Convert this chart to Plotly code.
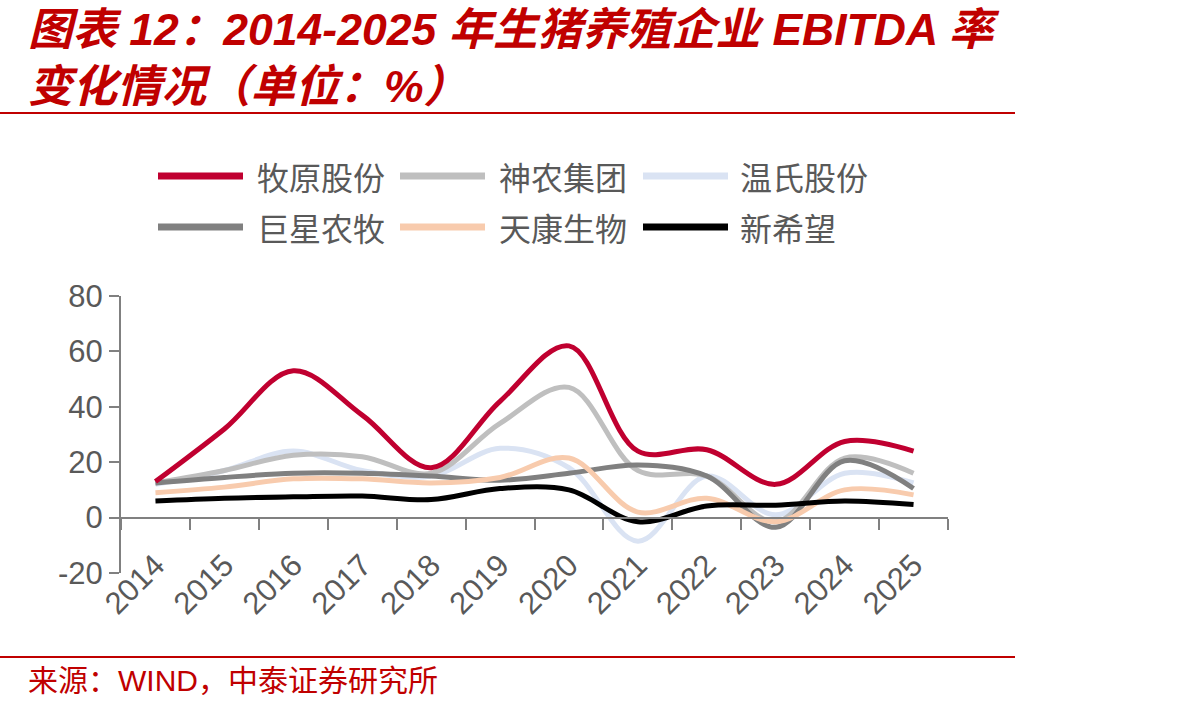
import plotly.graph_objects as go

W, H = 1192, 710
L, R, T, B = 121, 948, 296, 573  # plot area in pixels

years = ['2014', '2015', '2016', '2017', '2018', '2019', '2020', '2021', '2022', '2023', '2024', '2025']
muyuan = [13, 32, 53, 37, 18, 42, 62, 24, 24.5, 12, 27.5, 24]
shennong = [12.5, 17, 22.5, 22, 16, 34, 47, 17, 15, -1.5, 21.5, 16]
wens = [12, 17, 24, 17, 15, 25, 18, -8.5, 15, 1, 16, 12.5]
juxing = [12.5, 14.5, 16, 16, 15, 13.5, 16, 19, 15, -3.5, 20.5, 10.5]
tiankang = [9, 11, 14, 14, 12.5, 14.5, 21.5, 2, 7, -1.5, 10, 8.2]
xinxiwang = [6, 7, 7.5, 7.8, 6.5, 10.5, 10, -1.5, 4.2, 4.5, 6, 4.7]

names = ['牧原股份', '神农集团', '温氏股份', '巨星农牧', '天康生物', '新希望']
series = [muyuan, shennong, wens, juxing, tiankang, xinxiwang]
colors = ['#C00030', '#BFBFBF', '#DAE3F3', '#808080', '#F8CBAD', '#000000']
draw_order = [2, 1, 3, 4, 5, 0]

y_ticks = [-20, 0, 20, 40, 60, 80]
y_ticktext = ['-20', '0', '20', '40', '60', '80']

fig = go.Figure()
for i in draw_order:
    fig.add_trace(go.Scatter(
        x=years, y=series[i], name=names[i], mode='lines',
        line=dict(color=colors[i], width=5, shape='spline', smoothing=1.0),
        showlegend=False, hoverinfo='skip'))


def px(x):
    return (x - L) / (R - L)


def py(y):
    return (B - y) / (B - T)


shapes = []
annotations = []
red = '#C00000'
# header / footer rules
for yy in (113, 657):
    shapes.append(dict(type='line', xref='paper', yref='paper', x0=px(0), x1=px(1015),
                       y0=py(yy), y1=py(yy), line=dict(color=red, width=2)))

annotations.append(dict(xref='paper', yref='paper', x=px(26), y=py(29), xanchor='left', yanchor='middle',
                        text='<b><i>图表 12：2014-2025 年生猪养殖企业 EBITDA 率</i></b>', showarrow=False,
                        font=dict(family='Liberation Sans, Noto Sans CJK SC', size=44.5, color=red)))
annotations.append(dict(xref='paper', yref='paper', x=px(26), y=py(86), xanchor='left', yanchor='middle',
                        text='<b><i>变化情况（单位：%）</i></b>', showarrow=False,
                        font=dict(family='Liberation Sans, Noto Sans CJK SC', size=44.5, color=red)))
annotations.append(dict(xref='paper', yref='paper', x=px(26), y=py(680), xanchor='left', yanchor='middle',
                        text='来源：WIND，中泰证券研究所', showarrow=False,
                        font=dict(family='Liberation Sans, Noto Sans CJK SC', size=30, color=red)))

# custom legend
leg_cols = [(158, 243, 255), (400, 485, 497), (643, 728, 738)]
leg_rows = [176, 227]
for k in range(6):
    r, c = divmod(k, 3)
    x0, x1, tx = leg_cols[c]
    yy = leg_rows[r]
    shapes.append(dict(type='line', xref='paper', yref='paper', x0=px(x0), x1=px(x1),
                       y0=py(yy), y1=py(yy), line=dict(color=colors[k], width=7)))
    annotations.append(dict(xref='paper', yref='paper', x=px(tx), y=py(yy), xanchor='left', yanchor='middle',
                            text=names[k], showarrow=False,
                            font=dict(family='Noto Sans CJK SC', size=32, color='#595959')))

fig.update_layout(
    width=W, height=H,
    margin=dict(l=L, r=W - R, t=T, b=H - B, autoexpand=False),
    paper_bgcolor='white', plot_bgcolor='white',
    showlegend=False,
    shapes=shapes, annotations=annotations,
    font=dict(family='Liberation Sans, Arial', color='#595959'),
    xaxis=dict(type='category', categoryorder='array', categoryarray=years,
               range=[-0.5, 11.5], anchor='free', position=0.2,
               showline=True, linecolor='#808080', linewidth=2,
               ticks='outside', tickson='boundaries', ticklen=11, tickcolor='#808080', tickwidth=2,
               tickangle=-45, tickfont=dict(size=31, color='#595959'), ticklabelstandoff=16,
               showgrid=False, zeroline=False),
    yaxis=dict(range=[-20, 80], tickvals=y_ticks, ticktext=y_ticktext,
               showline=True, linecolor='#808080', linewidth=2,
               ticks='outside', ticklen=10, tickcolor='#808080', tickwidth=2,
               tickfont=dict(size=31, color='#595959'), showgrid=False, zeroline=False),
)

fig.write_html('out.html')
